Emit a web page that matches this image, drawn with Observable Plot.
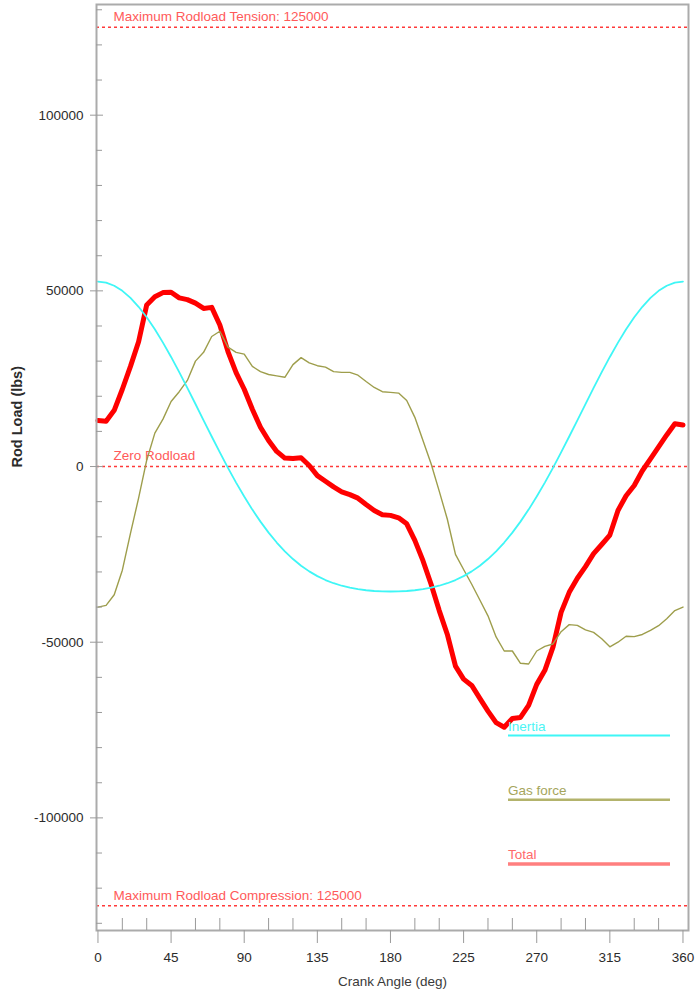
<!DOCTYPE html>
<html>
<head>
<meta charset="utf-8">
<script src="https://cdn.jsdelivr.net/npm/d3@7"></script>
<script src="https://cdn.jsdelivr.net/npm/@observablehq/plot@0.6"></script>
<style>
  body { margin: 0; background: #fff; }
  #chart { width: 696px; height: 994px; }
</style>
</head>
<body>
<div id="chart"></div>
<script>
// Crank angle grid (deg)
const angles = [0,5,10,15,20,25,30,35,40,45,50,55,60,65,70,75,80,85,90,95,100,105,110,115,120,125,130,135,140,145,150,155,160,165,170,175,180,185,190,195,200,205,210,215,220,225,230,235,240,245,250,255,260,265,270,275,280,285,290,295,300,305,310,315,320,325,330,335,340,345,350,355,360];

// Reciprocating inertia load (lbs)
const inertia = [52650,52350,51460,50000,47990,45470,42470,39050,35270,31190,26870,22380,17790,13150,8550,4020,-370,-4570,-8540,-12260,-15680,-18810,-21630,-24130,-26330,-28220,-29840,-31190,-32310,-33210,-33930,-34490,-34910,-35210,-35420,-35530,-35570,-35530,-35420,-35210,-34910,-34490,-33930,-33210,-32310,-31190,-29840,-28220,-26330,-24130,-21630,-18810,-15680,-12260,-8540,-4570,-370,4020,8550,13150,17790,22380,26870,31190,35270,39050,42470,45470,47990,50000,51460,52350,52650];

// Gas force load (lbs)
const gasForce = [-40000,-39500,-36500,-29500,-19000,-9000,1800,9500,13500,18500,21300,24500,30000,32500,37000,38500,34000,32500,32000,28500,27000,26200,25800,25400,29000,31000,29500,28700,28300,27000,26800,26800,26000,24200,22500,21300,21100,20900,18800,14000,7400,800,-7000,-15000,-25000,-29300,-33500,-38000,-42500,-48500,-52500,-52500,-56000,-56200,-52500,-51200,-50500,-47000,-45000,-45200,-46500,-47200,-49000,-51300,-50000,-48300,-48400,-47800,-46600,-45300,-43300,-41000,-40000];

// Combined rod load (lbs)
const total = [13100,12900,16000,22000,28500,35500,46000,48300,49500,49600,48000,47500,46500,45000,45300,40300,32700,26700,22000,16300,11200,7400,4300,2400,2300,2500,300,-2600,-4200,-5800,-7200,-8000,-9000,-10800,-12500,-13700,-13900,-14600,-16300,-21000,-26800,-33500,-41000,-47800,-56800,-60500,-62300,-66000,-69600,-72900,-74200,-71700,-71400,-68000,-62000,-58000,-51400,-41500,-35800,-31800,-28500,-24800,-22200,-19500,-12500,-8300,-5400,-1200,2200,5600,9000,12200,11800];

// Rod load limits and their captions
const limitValues = [125000, 0, -125000];
const limitLabels = ["Maximum Rodload Tension: 125000", "Zero Rodload", "Maximum Rodload Compression: 125000"];

// Axis ticks
const xTicks = [0, 45, 90, 135, 180, 225, 270, 315, 360];
const xMinorTicks = [15,30,60,75,105,120,150,165,195,210,240,255,285,300,330,345];
const yTicks = [-100000, -50000, 0, 50000, 100000];
const yMinorTicks = [-130000,-120000,-110000,-90000,-80000,-70000,-60000,-40000,-30000,-20000,-10000,10000,20000,30000,40000,60000,70000,80000,90000,110000,120000,130000];

// Legend entries
const seriesNames = ["Inertia", "Gas force", "Total"];
const seriesColors = ["#3ff6f6", "#9e9e4c", "#ff0000"];
const legendLineColors = ["#3ff6f6", "#b3b36c", "#ff7f7f"];
const legendTextColors = ["#4df5f5", "#a5a55c", "#ff6a6a"];

const rows = angles.map((a, i) => ({angle: a, inertia: inertia[i], gas: gasForce[i], total: total[i]}));
const limits = limitValues.map((v, i) => ({value: v, label: limitLabels[i]}));

const font = "'Liberation Sans', Arial, sans-serif";
const axisGray = "#9a9a9a";

const fig = Plot.plot({
  width: 696,
  height: 994,
  marginLeft: 96,
  marginRight: 8,
  marginTop: 4,
  marginBottom: 64,
  style: {fontFamily: font, fontSize: "13.5px", background: "#fff", color: "#2b2b2b", overflow: "visible"},
  x: {domain: [-0.9, 363.4]},
  y: {domain: [-132050, 131500]},
  marks: [
    // rod load limits
    Plot.ruleY(limits, {y: "value", stroke: "#ff3a3a", strokeWidth: 1.5, strokeDasharray: "3,3"}),
    Plot.text(limits, {y: "value", text: "label", frameAnchor: "left", dx: 17, dy: -10.5, textAnchor: "start", fill: "#ff5a5a", fontSize: 13.5}),

    // load curves
    Plot.line(rows, {x: "angle", y: "total", stroke: seriesColors[2], strokeWidth: 5}),
    Plot.line(rows, {x: "angle", y: "gas", stroke: seriesColors[1], strokeWidth: 1.4}),
    Plot.line(rows, {x: "angle", y: "inertia", stroke: seriesColors[0], strokeWidth: 1.8}),

    // frame and ticks
    Plot.frame({stroke: "#ababab", strokeWidth: 2}),
    Plot.ruleX(xMinorTicks, {x: d => d, stroke: axisGray, insetTop: 914}),
    Plot.ruleY(yMinorTicks, {y: d => d, stroke: axisGray, insetRight: 586}),
    Plot.ruleY(yTicks, {y: d => d, stroke: axisGray, insetRight: 585}),
    Plot.axisX({ticks: xTicks, tickSize: 13, tickPadding: 9, stroke: axisGray, fill: "#2b2b2b", label: null, tickFormat: d => String(d)}),
    Plot.axisY({ticks: yTicks, tickSize: 6, tickPadding: 7, stroke: axisGray, fill: "#2b2b2b", label: null, tickFormat: d => String(d)}),

    // axis titles
    Plot.text(["Crank Angle (deg)"], {frameAnchor: "bottom", dy: 55, fill: "#3a3a3a", fontSize: 13.5}),
    Plot.text(["Rod Load (lbs)"], {frameAnchor: "left", dx: -79, rotate: -90, fill: "#2b2b2b", fontSize: 14.5, fontWeight: "bold"})
  ]
});

document.getElementById("chart").appendChild(fig);

// In-plot legend, bottom right
const legendX0 = 508, legendX1 = 670;
const legendY = [735.5, 799.7, 864];
const legendWidths = [2, 2.5, 3.7];
const g = d3.select(fig).append("g")
  .attr("font-family", font)
  .attr("font-size", 13.5)
  .attr("text-anchor", "start");
seriesNames.forEach((name, i) => {
  g.append("line")
    .attr("x1", legendX0).attr("x2", legendX1)
    .attr("y1", legendY[i]).attr("y2", legendY[i])
    .attr("stroke", legendLineColors[i]).attr("stroke-width", legendWidths[i]);
  g.append("text")
    .attr("x", legendX0).attr("y", legendY[i] - 5)
    .attr("text-anchor", "start")
    .attr("fill", legendTextColors[i])
    .text(name);
});
</script>
</body>
</html>
